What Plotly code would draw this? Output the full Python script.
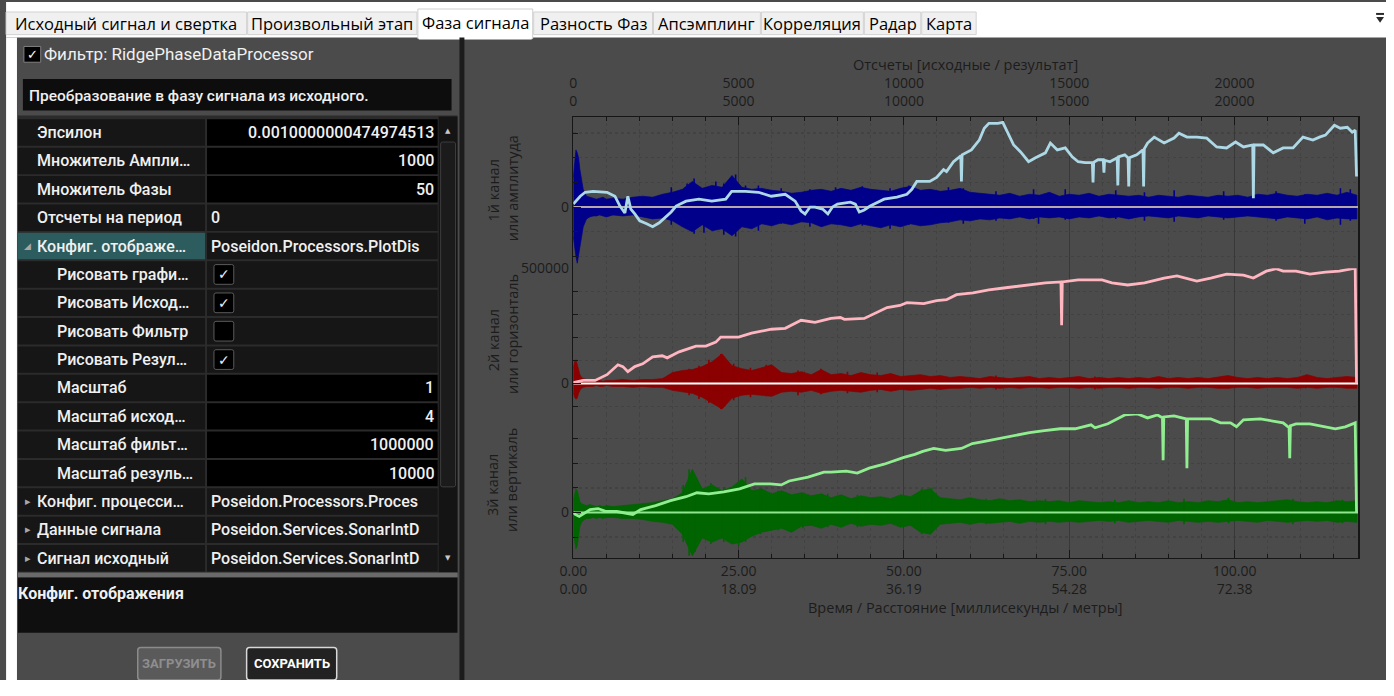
import plotly.graph_objects as go

# The page body keeps its default 8 px margin, so the figure is sized to fit
# inside it and every position below is given in window pixels, shifted by
# that margin.
WIN_W, WIN_H = 1394, 696
OFF = 8
W, H = WIN_W - OFF, WIN_H - 2 * OFF

# ---------------------------------------------------------------- axes
SAMPLES_END = 23743
sample_ticks = [0, 5000, 10000, 15000, 20000]
sample_labels = ["0<br>0", "5000<br>5000", "10000<br>10000", "15000<br>15000", "20000<br>20000"]
time_labels = ["0.00<br>0.00", "25.00<br>18.09", "50.00<br>36.19", "75.00<br>54.28", "100.00<br>72.38"]

# ---------------------------------------------------------------- raw signal envelopes (thousands of counts)
noise_s = [0, 40, 80, 120, 160, 200, 250, 300, 400, 500, 600, 700, 800, 900, 1000,
           1200, 1500, 1800, 2100, 2400, 2700, 3000, 3300, 3600, 3900,
           4200, 4500, 4800, 5100, 5400, 5700, 6000, 6300, 6600, 6900,
           7200, 7500, 7800, 8100, 8400, 8700, 9000, 9300, 9600, 9900,
           10200, 10500, 10800, 11100, 11400, 11700, 12000, 12300, 12600, 12900,
           13200, 13500, 13800, 14100, 14400, 14700, 15000, 15300, 15600, 15900,
           16200, 16500, 16800, 17100, 17400, 17700, 18000, 18300, 18600, 18900,
           19200, 19500, 19800, 20100, 20400, 20700, 21000, 21300, 21600, 21900,
           22200, 22500, 22800, 23100, 23400, 23700]

ch1_hi = [120, 180, 232, 220, 200, 152, 112, 72, 44, 40, 36, 32, 36, 40, 32,
          36, 32, 40, 44, 40, 52, 60, 72, 104, 76,
          88, 80, 128, 80, 72, 76, 68, 64, 56, 60,
          68, 72, 64, 76, 68, 80, 72, 68, 64, 76,
          84, 68, 72, 64, 68, 76, 60, 56, 52, 48,
          56, 44, 52, 48, 60, 44, 52, 48, 56, 44,
          52, 48, 44, 48, 40, 48, 44, 40, 48, 44,
          40, 48, 44, 48, 40, 52, 48, 56, 48, 44,
          52, 48, 56, 48, 60, 48]
ch1_lo = [-120, -160, -200, -228, -208, -168, -120, -80, -48, -40, -36, -36, -32, -36, -40,
          -32, -36, -32, -40, -48, -44, -56, -80, -100, -72,
          -96, -88, -116, -80, -88, -68, -76, -64, -72, -60,
          -64, -80, -68, -72, -80, -68, -76, -84, -72, -80,
          -68, -76, -72, -64, -60, -52, -56, -48, -52, -44,
          -48, -40, -48, -40, -44, -40, -48, -40, -44, -36,
          -44, -40, -48, -40, -36, -40, -44, -36, -40, -44,
          -36, -40, -44, -40, -36, -40, -44, -48, -40, -44,
          -48, -40, -52, -44, -48, -48]

ch2_hi = [64, 94, 103, 85, 60, 38, 26, 21, 17, 13, 17, 13, 13, 9, 13,
          13, 17, 13, 17, 17, 21, 47, 56, 60, 73,
          94, 128, 77, 64, 56, 68, 81, 47, 43, 51,
          38, 60, 38, 43, 34, 47, 38, 34, 43, 30,
          34, 38, 30, 34, 26, 30, 26, 21, 30, 26,
          21, 26, 30, 21, 26, 21, 26, 30, 21, 26,
          21, 26, 21, 26, 21, 30, 21, 26, 21, 26,
          21, 26, 34, 26, 21, 26, 21, 26, 21, 26,
          38, 26, 21, 26, 30, 26]
ch2_lo = [-43, -60, -68, -64, -43, -30, -21, -17, -13, -13, -13, -9, -13, -13, -9,
          -13, -13, -17, -13, -17, -17, -30, -38, -43, -60,
          -85, -111, -64, -51, -47, -51, -56, -38, -34, -38,
          -30, -43, -34, -30, -34, -38, -30, -26, -34, -26,
          -30, -26, -21, -26, -21, -21, -17, -21, -17, -21,
          -17, -21, -17, -17, -21, -17, -17, -21, -17, -21,
          -17, -17, -21, -17, -17, -21, -17, -17, -21, -17,
          -17, -21, -21, -17, -17, -21, -17, -17, -17, -21,
          -17, -21, -17, -17, -21, -21]

ch3_hi = [48, 80, 96, 88, 64, 44, 36, 32, 28, 32, 28, 24, 28, 24, 28,
          24, 28, 32, 36, 40, 48, 56, 80, 176, 96,
          112, 88, 104, 136, 88, 96, 76, 88, 72, 80,
          68, 76, 60, 72, 56, 68, 60, 64, 56, 72,
          64, 88, 96, 60, 56, 52, 60, 52, 48, 56,
          48, 52, 44, 48, 44, 48, 40, 48, 44, 40,
          44, 40, 48, 40, 44, 40, 48, 40, 44, 40,
          48, 44, 52, 40, 44, 40, 44, 48, 52, 44,
          40, 44, 40, 48, 44, 48]
ch3_lo = [-80, -120, -148, -136, -96, -56, -40, -32, -24, -24, -20, -24, -20, -24, -20,
          -20, -24, -24, -28, -36, -40, -48, -88, -176, -104,
          -120, -104, -128, -120, -96, -80, -72, -64, -80, -56,
          -52, -64, -48, -60, -44, -56, -48, -52, -44, -60,
          -52, -80, -88, -48, -44, -40, -48, -40, -44, -40,
          -36, -44, -36, -40, -36, -40, -36, -40, -36, -32,
          -36, -32, -40, -36, -32, -36, -40, -32, -36, -40,
          -36, -40, -36, -32, -36, -40, -32, -36, -40, -36,
          -32, -36, -32, -40, -36, -40]

# individual oscillation peaks that stand out of the envelopes
ch1_pk_s = [2964, 3443, 3653, 3952, 4311, 4551, 4910, 5210, 5599, 6287, 7156, 7934, 8742, 9581,
            10150, 11347, 11796, 12784, 13922, 14072, 14880, 16407, 17275, 18174, 19671, 21257,
            22125, 23203, 23502]
ch1_pk_hi = [80, 96, 116, 72, 104, 96, 132, 88, 88, 76, 72, 80, 84, 76,
             88, 80, 76, 64, 72, 48, 72, 68, 60, 68, 64, 64,
             52, 76, 72]
ch1_pk_lo = [-72, -64, -108, -104, -88, -112, -120, -72, -96, -68, -80, -64, -76, -88,
             -72, -64, -68, -56, -48, -68, -52, -48, -56, -60, -52, -56,
             -68, -72, -56]

ch2_pk_s = [3503, 3802, 4102, 4461, 4850, 5359, 5838, 6796, 7485, 8293, 9192, 12784, 15778,
            19820, 22156]
ch2_pk_hi = [64, 77, 103, 128, 85, 68, 81, 56, 64, 51, 47, 34, 30, 30, 38]
ch2_pk_lo = [-51, -68, -85, -111, -73, -60, -56, -51, -47, -43, -38, -26, -26, -21, -21]

ch3_pk_s = [3323, 3503, 3683, 4162, 4551, 5000, 5210, 5659, 6198, 6946, 7695, 8593, 10539,
            10838, 12485, 14282, 16377, 18473, 19820, 21766, 23263]
ch3_pk_hi = [112, 176, 120, 120, 104, 112, 144, 96, 88, 80, 76, 72, 96, 100, 56, 56, 52, 56,
             60, 56, 52]
ch3_pk_lo = [-120, -176, -160, -128, -120, -136, -120, -88, -72, -64, -60, -60, -88, -80, -48,
             -48, -44, -48, -44, -48, -44]

# ---------------------------------------------------------------- phase results (thousands of counts)
ph1_s = [0, 210, 360, 600, 1020, 1260, 1410, 1560, 1650, 1740,
         1860, 2010, 2220, 2400, 2600, 2810, 2960, 3110, 3410, 3800,
         4190, 4610, 4790, 5210, 5600, 5990, 6410, 6710, 6890, 7010,
         7160, 7310, 7540, 7700, 7840, 7990, 8380, 8530, 8650, 8800,
         8980, 9400, 9790, 10090, 10240, 10390, 10780, 10990, 11200, 11290,
         11500, 11720, 11740, 11760, 12040, 12280, 12430, 12570, 12840, 12990,
         13140, 13320, 13530, 13770, 13980, 14280, 14430, 14640, 14880, 15090,
         15270, 15480, 15700, 15720, 15740, 15870, 16030, 16050, 16070, 16230,
         16450, 16470, 16490, 16680, 16780, 16800, 16820, 17040, 17230, 17250,
         17270, 17370, 17570, 17870, 18170, 18320, 18560, 18860, 19160, 19460,
         19760, 20030, 20270, 20550, 20570, 20590, 20870, 21170, 21470, 21770,
         22070, 22370, 22570, 22750, 23020, 23200, 23410, 23560, 23650, 23690]
ph1_v = [12, 44, 60, 64, 60, 44, 4, -24, 44, -8,
         -28, -56, -68, -80, -64, -40, -20, 4, 24, 32,
         24, 32, 64, 64, 60, 44, 52, 24, -16, -28,
         0, 0, -8, -28, 0, 12, 20, 12, -20, -12,
         4, 32, 40, 52, 72, 104, 104, 120, 152, 144,
         184, 208, 104, 212, 232, 272, 320, 340, 340, 344,
         300, 252, 224, 184, 200, 220, 260, 232, 240, 204,
         184, 180, 180, 100, 182, 192, 192, 140, 190, 184,
         200, 88, 204, 212, 200, 84, 200, 212, 232, 84,
         236, 260, 284, 260, 280, 300, 284, 284, 280, 244,
         240, 264, 244, 252, 36, 252, 252, 220, 240, 240,
         284, 272, 284, 292, 332, 320, 324, 304, 312, 124]

ph2_s = [0, 300, 660, 1020, 1350, 1500, 1650, 1860, 2100, 2400,
         2690, 2840, 3200, 3710, 4010, 4310, 4460, 5000, 5390, 5990,
         6410, 6890, 7310, 7790, 8080, 8200, 8800, 8980, 9490, 9880,
         10090, 10600, 10990, 11290, 11590, 12090, 12570, 13080, 13770, 14280,
         14750, 14770, 14790, 15270, 15690, 15990, 16290, 16770, 17280, 17870,
         18260, 18860, 19280, 19760, 20270, 20570, 20960, 21260, 21470, 21860,
         22280, 22750, 23170, 23470, 23650, 23690]
ph2_v = [4, 13, 13, 38, 81, 73, 51, 73, 85, 115,
         120, 111, 137, 162, 162, 179, 201, 201, 218, 235,
         239, 274, 265, 282, 286, 278, 282, 295, 329, 338,
         350, 346, 359, 363, 385, 393, 406, 415, 427, 436,
         440, 252, 440, 449, 449, 449, 436, 427, 436, 457,
         466, 444, 457, 474, 470, 457, 487, 498, 487, 487,
         474, 483, 487, 496, 500, 0]

ph3_s = [0, 60, 180, 510, 750, 990, 1320, 1680, 1800, 2040, 2490,
         2940, 3410, 3740, 4100, 4550, 5030, 5480, 5960, 6290, 6530,
         7100, 7580, 7790, 8260, 8590, 8950, 9400, 10000, 10330, 10570,
         10900, 11260, 11740, 12070, 12400, 12880, 13440, 13800, 14250, 14730,
         15180, 15660, 15780, 16170, 16680, 17070, 17370, 17670, 17820, 17840,
         17860, 18170, 18410, 18540, 18560, 18580, 18860, 19280, 19580, 19880,
         20060, 20270, 20780, 21170, 21470, 21650, 21670, 21690, 21860, 22280,
         22750, 23050, 23350, 23650, 23690]
ph3_v = [0, -8, -16, 12, 16, 4, 4, -4, -8, 12, 28,
         48, 64, 80, 76, 84, 96, 116, 116, 112, 128,
         144, 164, 164, 168, 160, 180, 196, 224, 236, 248,
         260, 252, 260, 280, 288, 300, 312, 324, 332, 340,
         340, 356, 344, 360, 396, 400, 384, 396, 384, 212,
         388, 392, 384, 380, 180, 380, 380, 380, 364, 364,
         348, 376, 380, 372, 364, 344, 220, 352, 360, 360,
         348, 340, 348, 364, 0]

for name, a, b in [("ch1_hi", noise_s, ch1_hi), ("ch1_lo", noise_s, ch1_lo),
                   ("ch2_hi", noise_s, ch2_hi), ("ch2_lo", noise_s, ch2_lo),
                   ("ch3_hi", noise_s, ch3_hi), ("ch3_lo", noise_s, ch3_lo),
                   ("ch1_pk_hi", ch1_pk_s, ch1_pk_hi), ("ch1_pk_lo", ch1_pk_s, ch1_pk_lo),
                   ("ch2_pk_hi", ch2_pk_s, ch2_pk_hi), ("ch2_pk_lo", ch2_pk_s, ch2_pk_lo),
                   ("ch3_pk_hi", ch3_pk_s, ch3_pk_hi), ("ch3_pk_lo", ch3_pk_s, ch3_pk_lo),
                   ("ph1", ph1_s, ph1_v), ("ph2", ph2_s, ph2_v), ("ph3", ph3_s, ph3_v)]:
    if len(a) != len(b):
        raise ValueError(f"{name}: {len(a)} != {len(b)}")


def units(vals):
    return [v * 1000 for v in vals]


def stems(xs, hi, lo):
    """Vertical strokes from lo to hi at every x, as one broken polyline."""
    sx, sy = [], []
    for x, a, b in zip(xs, units(hi), units(lo)):
        sx += [x, x, None]
        sy += [b, a, None]
    return sx, sy


# ---------------------------------------------------------------- styling
BG = "#4b4b4b"
AX = "#161616"
TXT = "#1c1c1c"
GRID_MAJ = "#383838"
GRID_MIN = "#424242"
UI = "Roboto"
CH = "Open Sans"

PLOT_L, PLOT_R, PLOT_T, PLOT_B = 573, 1366, 117, 564
P1, P2 = 270, 418  # boundaries between the channel strips


def X(x):
    return (x - OFF) / W


def Y(y):
    return 1 - (y - OFF) / H


fig = go.Figure()

channels = [
    dict(xa="x", ya="y", hi=ch1_hi, lo=ch1_lo, pk=(ch1_pk_s, ch1_pk_hi, ch1_pk_lo),
         band="#00008b", base="#f2dfb4", base_w=1.6, ps=ph1_s, pv=ph1_v, phase="#add8e6"),
    dict(xa="x2", ya="y2", hi=ch2_hi, lo=ch2_lo, pk=(ch2_pk_s, ch2_pk_hi, ch2_pk_lo),
         band="#8b0000", base="#ffffff", base_w=2.0, ps=ph2_s, pv=ph2_v, phase="#ffb6c1"),
    dict(xa="x3", ya="y3", hi=ch3_hi, lo=ch3_lo, pk=(ch3_pk_s, ch3_pk_hi, ch3_pk_lo),
         band="#006400", base="#8fe68f", base_w=2.0, ps=ph3_s, pv=ph3_v, phase="#90ee90"),
]
for ch in channels:
    # raw oscillating signal, drawn as its envelope band
    fig.add_trace(go.Scatter(
        x=noise_s + noise_s[::-1], y=units(ch["hi"]) + units(ch["lo"])[::-1],
        xaxis=ch["xa"], yaxis=ch["ya"], mode="lines", fill="toself",
        fillcolor=ch["band"], line=dict(color=ch["band"], width=0.7), hoverinfo="skip"))
    # single peaks of the raw signal
    sx, sy = stems(*ch["pk"])
    fig.add_trace(go.Scatter(
        x=sx, y=sy, xaxis=ch["xa"], yaxis=ch["ya"], mode="lines",
        line=dict(color=ch["band"], width=1.6), hoverinfo="skip"))
    # zero baseline
    fig.add_trace(go.Scatter(
        x=[0, SAMPLES_END], y=[0, 0], xaxis=ch["xa"], yaxis=ch["ya"], mode="lines",
        line=dict(color=ch["base"], width=ch["base_w"]), hoverinfo="skip"))
    # unwrapped phase
    fig.add_trace(go.Scatter(
        x=ch["ps"], y=units(ch["pv"]), xaxis=ch["xa"], yaxis=ch["ya"], mode="lines",
        line=dict(color=ch["phase"], width=2.8), hoverinfo="skip"))

tickfont = dict(family=CH, size=14, color=TXT)
xminor = dict(tick0=0, dtick=1000, showgrid=True, gridcolor=GRID_MIN, griddash="dot", gridwidth=1,
              ticks="inside", ticklen=4, tickcolor=AX)
xcommon = dict(range=[0, SAMPLES_END], domain=[X(PLOT_L), X(PLOT_R)], tickmode="array",
               tickvals=sample_ticks, showgrid=True, gridcolor=GRID_MAJ, gridwidth=1, zeroline=False,
               tickcolor=AX, tickfont=tickfont, fixedrange=True)

k2 = 500000 / (387 - P1)  # counts per pixel in the middle strip


def yaxis(dom, rng, vals, texts):
    return dict(domain=dom, range=rng, tickmode="array", tickvals=vals, ticktext=texts,
                ticks="inside", ticklen=8, tickcolor=AX, showline=True, linecolor=AX, linewidth=1.5,
                mirror=True, showgrid=True, gridcolor="#333333", gridwidth=1.4, zeroline=False,
                tickfont=tickfont, fixedrange=True,
                minor=dict(tick0=0, dtick=100000, ticks="inside", ticklen=5, tickcolor=AX,
                           showgrid=True, gridcolor=GRID_MIN, griddash="dot"))


fig.update_layout(
    width=W, height=H, margin=dict(l=0, r=0, t=0, b=0),
    paper_bgcolor=BG, plot_bgcolor=BG, showlegend=False, hovermode=False, dragmode=False,
    font=dict(family=CH, color=TXT),
    xaxis=dict(**xcommon, anchor="y", side="top", ticks="inside", ticklen=8, ticktext=sample_labels,
               showline=True, linecolor=AX, linewidth=1.5, minor=xminor, ticklabelstandoff=4),
    xaxis2=dict(**xcommon, anchor="y2", ticks="", showticklabels=False,
                minor=dict(xminor, ticks="")),
    xaxis3=dict(**xcommon, anchor="y3", side="bottom", ticks="inside", ticklen=8, ticktext=time_labels,
                showline=True, linecolor=AX, linewidth=1.5, minor=xminor),
    yaxis=yaxis([Y(P1), Y(PLOT_T)], [-(P1 - 208) * 4000, (208 - PLOT_T) * 4000], [0], ["0"]),
    yaxis2=yaxis([Y(P2), Y(P1)], [-(P2 - 387) * k2, 500000], [0, 500000], ["0", "500000"]),
    yaxis3=yaxis([Y(PLOT_B), Y(P2)], [-(PLOT_B - 518) * 4000, (518 - P2) * 4000], [0], ["0"]),
)

# ---------------------------------------------------------------- window chrome helpers
shapes, annos = [], []


def box(x0, y0, x1, y1, fill, line=None, lw=1):
    shapes.append(dict(type="rect", xref="paper", yref="paper", layer="above",
                       x0=X(x0), x1=X(x1), y0=Y(y1), y1=Y(y0), fillcolor=fill,
                       line=dict(color=line if line else fill, width=lw if line else 0)))


def rbox(x0, y0, x1, y1, r, fill, line, lw=1):
    p = (f"M{X(x0 + r)},{Y(y0)} L{X(x1 - r)},{Y(y0)} Q{X(x1)},{Y(y0)} {X(x1)},{Y(y0 + r)} "
         f"L{X(x1)},{Y(y1 - r)} Q{X(x1)},{Y(y1)} {X(x1 - r)},{Y(y1)} L{X(x0 + r)},{Y(y1)} "
         f"Q{X(x0)},{Y(y1)} {X(x0)},{Y(y1 - r)} L{X(x0)},{Y(y0 + r)} Q{X(x0)},{Y(y0)} {X(x0 + r)},{Y(y0)} Z")
    shapes.append(dict(type="path", xref="paper", yref="paper", layer="above", path=p,
                       fillcolor=fill, line=dict(color=line, width=lw)))


def label(x, y, s, size=16, color="#f0f0f0", anchor="left", weight=400, family=UI, angle=0):
    annos.append(dict(xref="paper", yref="paper", x=X(x), y=Y(y), text=s, showarrow=False,
                      xanchor=anchor, yanchor="middle", textangle=angle, borderpad=0, borderwidth=0,
                      font=dict(family=family, size=size, color=color, weight=weight)))


# tab strip
box(0, 0, WIN_W, 36, "#ffffff")
tabs = ["Исходный сигнал и свертка", "Произвольный этап", "Фаза сигнала", "Разность Фаз",
        "Апсэмплинг", "Корреляция", "Радар", "Карта"]
tab_edges = [0, 244, 416, 533, 654, 763, 867, 925, 981]
for i, t in enumerate(tabs):
    x0, x1 = tab_edges[i], tab_edges[i + 1] - 1
    if i == 2:
        box(x0, 7, x1, 37, "#ffffff", "#cfcfcf")
        box(x0 + 1, 33, x1 - 1, 38, "#ffffff")
        label((x0 + x1) / 2, 21, t, 16.5, "#000000", "center", family=CH)
    else:
        box(x0, 10, x1, 33, "#f0f0f0", "#d2d2d2")
        label((x0 + x1) / 2, 22, t, 16.5, "#000000", "center", family=CH)
box(1384, 11, 1392, 13, "#2a2a2a")
shapes.append(dict(type="path", xref="paper", yref="paper", layer="above",
                   path=f"M{X(1384)},{Y(15)} L{X(1392)},{Y(15)} L{X(1388)},{Y(21)} Z",
                   fillcolor="#2a2a2a", line=dict(width=0)))

# window edge and splitter
box(0, 36, 11, WIN_H, "#ffffff")
box(458, 36, 463, WIN_H, "#1c1c1c")

# filter header
box(18, 45, 35, 61, "#000000", "#808080")
label(26.5, 53, "✓", 13, "#ffffff", "center", family="DejaVu Sans")
label(38, 53, "Фильтр: RidgePhaseDataProcessor", 17)
box(17, 78, 450, 110, "#0d0d0d")
label(23, 95, "Преобразование в фазу сигнала из исходного.", 15.5, weight=500)

# property grid
prop_names = ["Эпсилон", "Множитель Ампли…", "Множитель Фазы", "Отсчеты на период",
              "Конфиг. отображе…", "Рисовать графи…", "Рисовать Исход…", "Рисовать Фильтр",
              "Рисовать Резул…", "Масштаб", "Масштаб исход…", "Масштаб фильт…",
              "Масштаб резуль…", "Конфиг. процесси…", "Данные сигнала", "Сигнал исходный"]
prop_level = [0, 0, 0, 0, 0, 1, 1, 1, 1, 1, 1, 1, 1, 0, 0, 0]
prop_kind = ["num", "num", "num", "text", "text", "check", "check", "box", "check",
             "num", "num", "num", "num", "text", "text", "text"]
prop_value = ["0.0010000000474974513", "1000", "50", "0", "Poseidon.Processors.PlotDis",
              "", "", "", "", "1", "4", "1000000", "10000",
              "Poseidon.Processors.Proces", "Poseidon.Services.SonarIntD", "Poseidon.Services.SonarIntD"]
prop_toggle = {4: "◢", 13: "▸", 14: "▸", 15: "▸"}

ROW0, ROWH = 118, 28.8
box(12, 115, 456, ROW0 + ROWH * len(prop_names) + 1, "#2b2b2b")
box(437, 116, 456, ROW0 + ROWH * len(prop_names), "#141414")
rbox(439, 142, 454, 492, 2, "#1b1b1b", "#3d3d3d")
label(446.5, 131, "▲", 7, "#c8c8c8", "center", family="DejaVu Sans")
for i, name in enumerate(prop_names):
    top = ROW0 + ROWH * i
    c = top + ROWH / 2
    box(12, top + 1, 201, top + ROWH - 1, "#2c5c5d" if i == 4 else "#161616")
    box(203, top + 1, 436, top + ROWH - 1, "#000000" if prop_kind[i] == "num" else "#161616")
    if i in prop_toggle:
        label(22, c, prop_toggle[i], 9 if i == 4 else 11, "#a8a8a8", "center", family="DejaVu Sans")
    label(31 if prop_level[i] == 0 else 51, c, name, 16, weight=500)
    if prop_kind[i] == "num":
        label(432, c, prop_value[i], 16, anchor="right", weight=500)
    elif prop_kind[i] == "text":
        label(207, c, prop_value[i], 16, weight=500)
    else:
        rbox(210, c - 10, 230, c + 10, 2, "#000000", "#5a5a5a")
        if prop_kind[i] == "check":
            label(220, c, "✓", 14, "#f0f0f0", "center", family="DejaVu Sans")
label(446.5, ROW0 + ROWH * 15.5, "▼", 7, "#c8c8c8", "center", family="DejaVu Sans")

box(12, 579, 456, 584, "#6a6a6a")
box(12, 584, 456, 640, "#0f0f0f")
label(12, 600, "Конфиг. отображения", 16, weight=700)

rbox(133, 655, 217, 688, 3, "#5a5a5a", "#8c8c8c", 1.5)
label(175, 671.5, "ЗАГРУЗИТЬ", 13, "#8e8e8e", "center", weight=700)
rbox(243, 655, 334, 688, 3, "#222222", "#d8d8d8", 1.5)
label(288.5, 671.5, "СОХРАНИТЬ", 13, "#ffffff", "center", weight=700)

# chart captions
mid = (PLOT_L + PLOT_R) / 2
label(mid, 63, "Отсчеты [исходные / результат]", 14.5, TXT, "center", family=CH)
label(mid, 614, "Время / Расстояние [миллисекунды / метры]", 14.5, TXT, "center", family=CH)
for y1, y2, a, b in [(191, 189, "1й канал", "или амплитуда"),
                     (343, 337, "2й канал", "или горизонталь"),
                     (490, 485, "3й канал", "или вертикаль")]:
    label(492, y1, a, 14.5, TXT, "center", family=CH, angle=-90)
    label(511, y2, b, 14.5, TXT, "center", family=CH, angle=-90)

fig.update_layout(shapes=shapes, annotations=annos)

fig.write_html("out.html", config={"displayModeBar": False, "staticPlot": True})
